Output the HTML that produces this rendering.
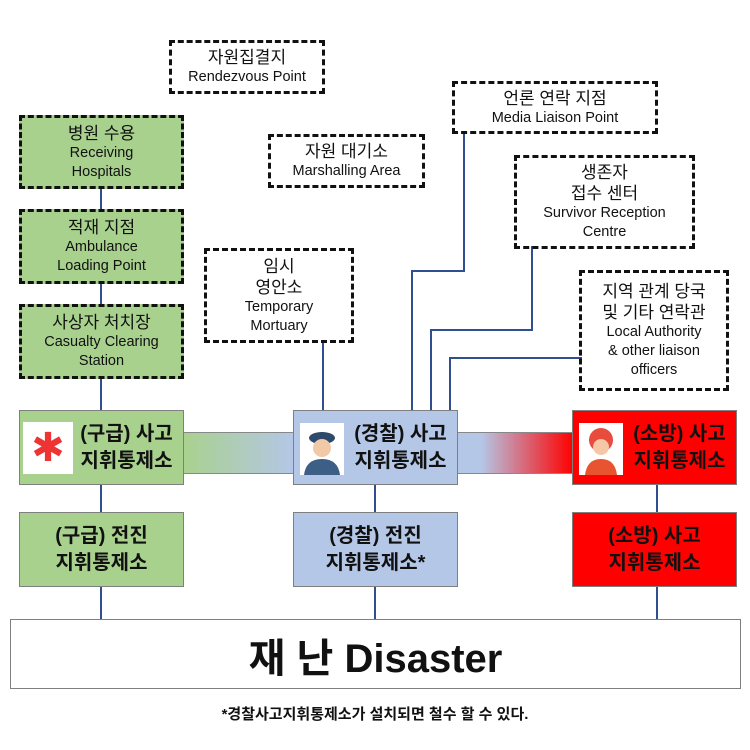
<!DOCTYPE html>
<html><head><meta charset="utf-8"><style>
body{margin:0;width:750px;height:750px;background:#fff;position:relative;overflow:hidden;font-family:"Liberation Sans","Noto Sans CJK KR",sans-serif;}
.b{position:absolute;box-sizing:border-box;border:3px dashed #111;display:flex;flex-direction:column;align-items:center;justify-content:center;text-align:center;color:#111;}
.g{background:#a9d18e;}
.k{font-size:17px;line-height:21px;}
.e{font-size:14.5px;line-height:19px;}
.s{position:absolute;box-sizing:border-box;border:1.5px solid #7f7f7f;display:flex;align-items:center;justify-content:center;text-align:center;font-weight:bold;font-size:20px;line-height:27px;color:#111;}
.l{position:absolute;background:#2f4f8f;}
.ic{position:absolute;background:#fff;}
</style></head><body>
<div class="l" style="left:100px;top:186px;width:2px;height:226px"></div>
<div class="l" style="left:322px;top:340px;width:2px;height:72px"></div>
<div class="l" style="left:463px;top:131px;width:2px;height:141px"></div>
<div class="l" style="left:411px;top:270px;width:54px;height:2px"></div>
<div class="l" style="left:411px;top:270px;width:2px;height:142px"></div>
<div class="l" style="left:531px;top:246px;width:2px;height:85px"></div>
<div class="l" style="left:430px;top:329px;width:103px;height:2px"></div>
<div class="l" style="left:430px;top:329px;width:2px;height:83px"></div>
<div class="l" style="left:449px;top:357px;width:133px;height:2px"></div>
<div class="l" style="left:449px;top:357px;width:2px;height:55px"></div>
<div class="l" style="left:100px;top:484px;width:2px;height:136px"></div>
<div class="l" style="left:374px;top:484px;width:2px;height:136px"></div>
<div class="l" style="left:656px;top:484px;width:2px;height:136px"></div>
<div style="position:absolute;left:183px;top:432px;width:111px;height:40px;background:linear-gradient(90deg,#a9d18e,#b4c7e7);border-top:1px solid #888;border-bottom:1px solid #888"></div>
<div style="position:absolute;left:458px;top:432px;width:115px;height:40px;background:linear-gradient(90deg,#b4c7e7 20%,#f00 100%);border-top:1px solid #888;border-bottom:1px solid #888"></div>
<div class="b" style="left:169px;top:40px;width:156px;height:54px"><div class="k">자원집결지</div><div class="e">Rendezvous Point</div></div>
<div class="b" style="left:268px;top:134px;width:157px;height:54px"><div class="k">자원 대기소</div><div class="e">Marshalling Area</div></div>
<div class="b g" style="left:19px;top:115px;width:165px;height:74px"><div class="k">병원 수용</div><div class="e">Receiving<br>Hospitals</div></div>
<div class="b g" style="left:19px;top:209px;width:165px;height:75px"><div class="k">적재 지점</div><div class="e">Ambulance<br>Loading Point</div></div>
<div class="b g" style="left:19px;top:304px;width:165px;height:75px"><div class="k">사상자 처치장</div><div class="e">Casualty Clearing<br>Station</div></div>
<div class="b" style="left:204px;top:248px;width:150px;height:95px"><div class="k">임시<br>영안소</div><div class="e">Temporary<br>Mortuary</div></div>
<div class="b" style="left:452px;top:81px;width:206px;height:53px"><div class="k">언론 연락 지점</div><div class="e">Media Liaison Point</div></div>
<div class="b" style="left:514px;top:155px;width:181px;height:94px"><div class="k">생존자<br>접수 센터</div><div class="e">Survivor Reception<br>Centre</div></div>
<div class="b" style="left:579px;top:270px;width:150px;height:121px"><div class="k">지역 관계 당국<br>및 기타 연락관</div><div class="e">Local Authority<br>&amp; other liaison<br>officers</div></div>
<div class="s" style="left:19px;top:410px;width:165px;height:75px;background:#a9d18e;padding-left:50px">(구급) 사고<br>지휘통제소</div>
<div class="ic" style="left:23px;top:422px;width:50px;height:52px;color:#e33;font-size:40px;text-align:center;line-height:52px">✱</div>
<div class="s" style="left:293px;top:410px;width:165px;height:75px;background:#b4c7e7;padding-left:50px">(경찰) 사고<br>지휘통제소</div>
<div class="ic" style="left:300px;top:423px;width:44px;height:52px">
<svg width="44" height="52"><ellipse cx="22" cy="15" rx="13" ry="6" fill="#2d4a6b"/><circle cx="22" cy="25" r="9" fill="#f2c9a6"/><path d="M4 52 Q6 36 22 36 Q38 36 40 52Z" fill="#3e5f85"/></svg></div>
<div class="s" style="left:572px;top:410px;width:165px;height:75px;background:#f00;padding-left:50px">(소방) 사고<br>지휘통제소</div>
<div class="ic" style="left:579px;top:423px;width:44px;height:52px">
<svg width="44" height="52"><circle cx="22" cy="17" r="12" fill="#e74c3c"/><circle cx="22" cy="24" r="8" fill="#f5c7a7"/><path d="M6 52 Q8 36 22 36 Q36 36 38 52Z" fill="#e8542f"/></svg></div>
<div class="s" style="left:19px;top:512px;width:165px;height:75px;background:#a9d18e">(구급) 전진<br>지휘통제소</div>
<div class="s" style="left:293px;top:512px;width:165px;height:75px;background:#b4c7e7">(경찰) 전진<br>지휘통제소*</div>
<div class="s" style="left:572px;top:512px;width:165px;height:75px;background:#f00">(소방) 사고<br>지휘통제소</div>
<div class="s" style="left:10px;top:619px;width:731px;height:70px;background:#fff;font-size:40px;padding-top:10px">재 난 Disaster</div>
<div style="position:absolute;left:0;top:703px;width:750px;text-align:center;font-weight:bold;font-size:15px;color:#111">*경찰사고지휘통제소가 설치되면 철수 할 수 있다.</div>
</body></html>
